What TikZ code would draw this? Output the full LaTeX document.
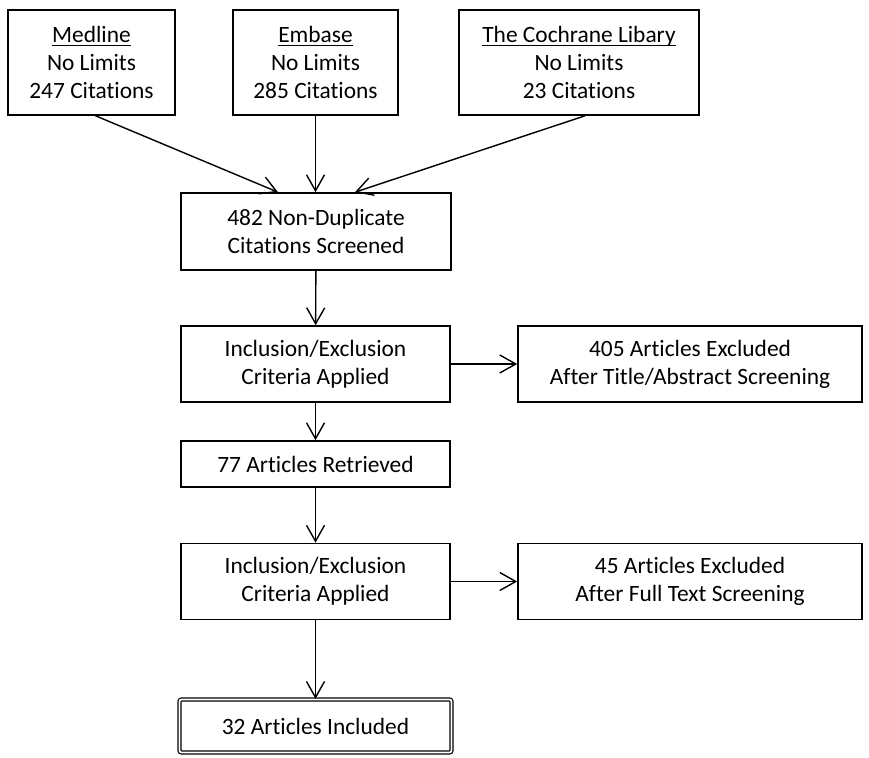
\documentclass[tikz,border=0pt]{standalone}
\usepackage{fontspec}
\setmainfont{Carlito}[Ligatures=NoCommon]
\usetikzlibrary{arrows.meta}
\tikzset{every picture/.style={x=0.5pt,y=-0.5pt}}
\tikzset{box/.style={draw,line width=0.8pt,align=center,inner sep=0pt,
    font=\fontsize{11.7}{14}\selectfont},
  arr/.style={line width=0.7pt,-{Straight Barb[length=8pt,width=9pt]}}}
\newcommand{\srcname}[1]{\underline{\smash{#1}}\vphantom{#1}}

\begin{document}
\begin{tikzpicture}
  \useasboundingbox (0,0) rectangle (869,758);
  \node[box,minimum width=83.5pt,minimum height=52.5pt] (medline) at (91.5,62.5) {\srcname{Medline}\\No Limits\\247 Citations};
  \node[box,minimum width=82.5pt,minimum height=52.5pt] (embase) at (315.5,62.5) {\srcname{Embase}\\No Limits\\285 Citations};
  \node[box,minimum width=120pt,minimum height=52.5pt] (cochrane) at (579,62.5) {\srcname{The Cochrane Libary}\\No Limits\\23 Citations};
  \node[box,minimum width=135pt,minimum height=38.5pt] (screened) at (316,231.5) {482 Non-Duplicate\\Citations Screened};
  \node[box,minimum width=134.5pt,minimum height=38pt] (criteria1) at (315.5,364) {Inclusion/Exclusion\\Criteria Applied};
  \node[box,minimum width=172pt,minimum height=38pt] (excluded1) at (690,364) {405 Articles Excluded\\After Title/Abstract Screening};
  \node[box,minimum width=134.5pt,minimum height=23pt] (retrieved) at (315.5,464) {77 Articles Retrieved};
  \node[box,minimum width=134.5pt,minimum height=38pt] (criteria2) at (315.5,581.5) {Inclusion/Exclusion\\Criteria Applied};
  \node[box,minimum width=172pt,minimum height=38pt] (excluded2) at (690,581.5) {45 Articles Excluded\\After Full Text Screening};
  \node[box,line width=0.6pt,double,double distance=0.9pt,rounded corners=1pt,
    minimum width=136pt,minimum height=26.5pt] (included) at (315.5,726) {32 Articles Included};

  \draw[arr] ([xshift=2pt]medline.south) -- ([xshift=-19pt]screened.north);
  \draw[arr] (embase.south) -- (embase.south |- screened.north);
  \draw[arr] ([xshift=3pt]cochrane.south) -- ([xshift=19.5pt]screened.north);
  \draw[arr] (screened) -- (criteria1);
  \draw[arr] (criteria1) -- (excluded1);
  \draw[arr] (criteria1) -- (retrieved);
  \draw[arr] (retrieved) -- (criteria2);
  \draw[arr] (criteria2) -- (excluded2);
  \draw[arr] (criteria2) -- (included);
\end{tikzpicture}
\end{document}
